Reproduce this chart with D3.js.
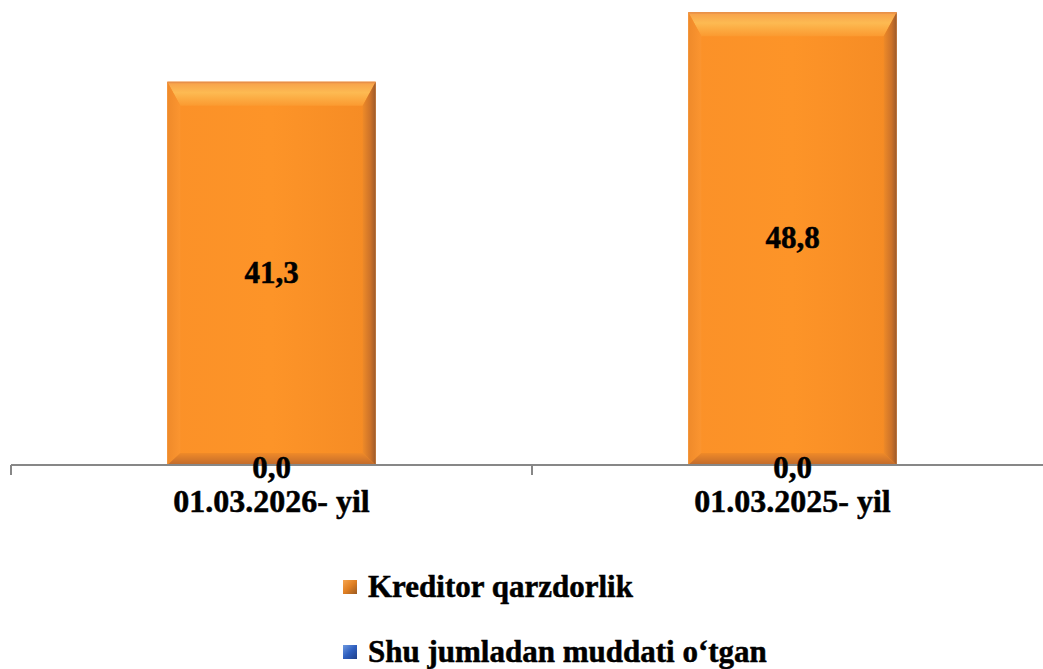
<!DOCTYPE html>
<html>
<head>
<meta charset="utf-8">
<script src="https://cdn.jsdelivr.net/npm/d3@7"></script>
<style>
  html, body { margin: 0; padding: 0; background: #ffffff; }
  svg { display: block; }
</style>
</head>
<body>
<svg id="chart" width="1043" height="669"></svg>
<script>
const categories = ["01.03.2026- yil", "01.03.2025- yil"];
const seriesNames = ["Kreditor qarzdorlik", "Shu jumladan muddati o\u2018tgan"];
const kreditorValues = [41.3, 48.8];
const muddatiValues = [0.0, 0.0];

const svg = d3.select("#chart");
const baseY = 465;

const x = d3.scaleBand().domain(categories).range([11, 1053]).paddingInner(0).paddingOuter(0);
const y = d3.scaleLinear().domain([0, 50]).range([baseY, 1]);
const barW = x.bandwidth() * 0.4;
const fmt = v => d3.format(".1f")(v).replace(".", ",");
const FONT = "'Liberation Serif', 'Times New Roman', Times, serif";
const fs = 31;

function txt(xp, yp, s, anchor, size) {
  return svg.append("text").attr("x", xp).attr("y", yp)
    .attr("text-anchor", anchor || "middle")
    .attr("font-family", FONT).attr("font-weight", "bold").attr("font-size", size || fs)
    .attr("fill", "#000").attr("stroke", "#000").attr("stroke-width", 0.5)
    .text(s);
}

const defs = svg.append("defs");
function lg(id, x1, y1, x2, y2, stops) {
  const g = defs.append("linearGradient").attr("id", id)
    .attr("x1", x1).attr("y1", y1).attr("x2", x2).attr("y2", y2);
  stops.forEach(s => g.append("stop").attr("offset", s[0]).attr("stop-color", s[1]));
}
lg("face", "0", "0", "1", "0", [["0", "#fb9128"], ["0.5", "#fd9428"], ["1", "#f58b24"]]);
lg("topB", "0", "0", "0", "1", [["0", "#f7a04a"], ["0.45", "#fdba52"], ["1", "#fb9a30"]]);
lg("leftB", "0", "0", "1", "0", [["0", "#ef8a2a"], ["1", "#fb9530"]]);
lg("rightB", "0", "0", "1", "0", [["0", "#ee8a28"], ["0.6", "#cc7229"], ["1", "#9c5a2c"]]);
lg("botB", "0", "0", "0", "1", [["0", "#f08a28"], ["1", "#c06a2c"]]);
lg("legO", "0", "0", "1", "1", [["0", "#f7a650"], ["0.5", "#e07f22"], ["1", "#9a5a22"]]);
lg("legB", "0", "0", "1", "1", [["0", "#6f9ae0"], ["0.5", "#2f5fbf"], ["1", "#1f3f88"]]);

// Bars (series 1) with bevel
const bars = svg.append("g");
categories.forEach((c, i) => {
  const v = kreditorValues[i];
  const x0 = x(c) + x.bandwidth() / 2 - barW / 2;
  const x1 = x0 + barW;
  const y0 = y(v), y1 = y(0);
  const g = bars.append("g");
  const tb = 24, sb = 13, bb = 12;
  g.append("rect").attr("x", x0).attr("y", y0).attr("width", barW).attr("height", y1 - y0).attr("fill", "url(#face)");
  g.append("polygon").attr("points", [[x0, y0], [x1, y0], [x1 - sb, y0 + tb], [x0 + sb, y0 + tb]].join(" ")).attr("fill", "url(#topB)");
  g.append("polygon").attr("points", [[x0, y0], [x0 + sb, y0 + tb], [x0 + sb, y1 - bb], [x0, y1]].join(" ")).attr("fill", "url(#leftB)");
  g.append("polygon").attr("points", [[x1, y0], [x1, y1], [x1 - sb, y1 - bb], [x1 - sb, y0 + tb]].join(" ")).attr("fill", "url(#rightB)");
  g.append("polygon").attr("points", [[x0, y1], [x0 + sb, y1 - bb], [x1 - sb, y1 - bb], [x1, y1]].join(" ")).attr("fill", "url(#botB)");
  g.append("rect").attr("x", x0).attr("y", y0).attr("width", barW).attr("height", 1.5).attr("fill", "#e0894a").attr("opacity", 0.7);
});

// Axis
const axis = svg.append("g").attr("stroke", "#878787").attr("stroke-width", 2);
axis.append("line").attr("x1", x.range()[0]).attr("x2", x.range()[1]).attr("y1", baseY).attr("y2", baseY);
const tickPos = categories.map(c => x(c)).concat([x.range()[1]]);
tickPos.forEach(t => axis.append("line").attr("x1", t).attr("x2", t).attr("y1", baseY).attr("y2", baseY + 10));

// Data labels and category labels
categories.forEach((c, i) => {
  const cx = x(c) + x.bandwidth() / 2;
  const v = kreditorValues[i];
  txt(cx, (y(v) + y(0)) / 2 + fs * 0.32, fmt(v));
  const m = muddatiValues[i];
  txt(cx, (y(m) + y(0)) / 2 + fs * 0.42, fmt(m));
  txt(cx, 512, c, "middle", 32);
});

// Legend
const legFills = ["url(#legO)", "url(#legB)"];
seriesNames.forEach((s, i) => {
  const ly = 597 + i * 65;
  svg.append("rect").attr("x", 343).attr("y", ly - 17).attr("width", 14).attr("height", 14).attr("fill", legFills[i]);
  txt(368, ly, s, "start");
});
</script>
</body>
</html>
